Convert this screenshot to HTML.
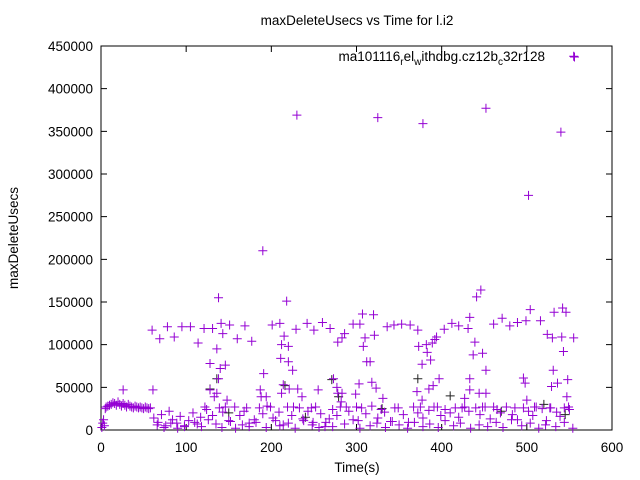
<!DOCTYPE html>
<html><head><meta charset="utf-8"><style>
body{margin:0;background:#fff;}
svg{display:block;font-family:"Liberation Sans",sans-serif;}
</style></head><body>
<svg id="chart" width="640" height="480" viewBox="0 0 640 480" xmlns="http://www.w3.org/2000/svg">
<rect x="0" y="0" width="640" height="480" fill="#fff"/>
<text x="357" y="25" font-size="13.5" text-anchor="middle">maxDeleteUsecs vs Time for l.i2</text>
<text transform="translate(18,238) rotate(-90)" font-size="13.5" text-anchor="middle">maxDeleteUsecs</text>
<text x="357" y="472" font-size="13.5" text-anchor="middle">Time(s)</text>
<g id="grid"></g>
<g id="pts"></g>
<g>
<text x="545" y="61" font-size="13.5" text-anchor="end">ma101116<tspan font-size="10" dy="4">r</tspan><tspan dy="-4">el</tspan><tspan font-size="10" dy="4">w</tspan><tspan dy="-4">ithdbg.cz12b</tspan><tspan font-size="10" dy="4">c</tspan><tspan dy="-4">32r128</tspan></text>
<path d="M570 57h9M574.5 52.5v9" stroke="#9400d3" stroke-width="1"/>
</g>
</svg>
<script>
const xTicks=[0,100,200,300,400,500,600];
const yTicks=[0,50000,100000,150000,200000,250000,300000,350000,400000,450000];
const timesA=[1,2,3,4,5,6,8,10,12,14,16,18,20,22,24,26,28,30,32,34,36,38,40,42,44,46,48,50,52,54,56,58,26,61,
60,69,78,86,95,105,114,121,128,131,136,138,138,140,141,143,146,151,160,169,177,191,201,210,211,212,215,218,220,220,225,229,242,250,260,269,273,278,190,230,325,378,452,502,540,555,
128,133,136,148,187,188,194,212,214,221,231,236,255,277,278,282,
283,286,296,304,307,320,308,310,312,316,321,336,344,353,363,372,373,377,383,382,387,389,392,394,403,412,420,431,433,441,446,437,439,448,452,461,471,480,489,499,504,516,524,530,532,542,546,541,543,555,531,
397,433,496,498,548,536,529,303,318,323,331,371,390,385,377,433,444,452,427,283,299,500,547,
62,67,71,76,80,84,89,93,98,103,108,113,117,124,131,139,143,150,157,163,168,174,180,186,190,195,205,209,214,219,224,233,237,243,249,252,258,263,268,272,277,288,291,302,306,311,318,325,329,333,340,349,355,361,367,372,378,385,391,399,404,410,416,420,427,432,440,445,451,457,465,469,476,483,489,496,502,507,511,518,523,528,535,539,544,550,
66,74,82,90,98,110,118,126,135,142,152,158,166,174,182,194,202,210,220,228,238,248,256,264,272,286,296,304,316,324,334,342,350,360,368,378,386,396,404,414,422,434,444,454,464,472,482,494,504,514,522,534,544,554,
122,146,171,199,226,247,281,300,345,375,395,424,448,461,486,509,527,549];
const valuesA=[3000,8000,12000,5000,25000,27000,28000,29000,30000,32000,31000,29000,33000,30000,28000,31000,29000,27000,30000,28000,27000,26000,28000,27000,26000,27000,26000,25000,27000,26000,25000,26000,47000,47000,
117000,107000,121000,109000,121000,121000,102000,119000,78000,119000,95000,155000,60000,72000,125000,113000,76000,123000,107000,122000,104000,66000,123000,125000,84000,100000,110000,151000,80000,98000,70000,118000,125000,117000,126000,119000,60000,103000,210000,369000,366000,359000,377000,275000,349000,438000,
47000,39000,43000,35000,47000,39000,39000,43000,53000,48000,48000,39000,47000,50000,43000,33000,
108000,113000,124000,124000,136000,135000,98000,108000,80000,80000,111000,121000,123000,124000,123000,117000,98000,77000,91000,100000,82000,102000,106000,109000,118000,125000,122000,119000,132000,156000,164000,88000,103000,90000,70000,124000,131000,122000,126000,128000,141000,128000,112000,108000,138000,143000,138000,109000,92000,108000,70000,
60000,60000,61000,55000,59000,55000,51000,54000,56000,49000,37000,45000,52000,48000,35000,47000,43000,43000,37000,43000,42000,35000,39000,
14000,9000,18000,5000,22000,12000,8000,16000,4000,11000,20000,7000,15000,24000,17000,26000,21000,11000,27000,17000,22000,8000,12000,26000,19000,28000,11000,21000,6000,27000,17000,26000,13000,22000,9000,27000,19000,4000,13000,24000,17000,27000,22000,11000,26000,19000,28000,14000,24000,21000,10000,26000,18000,9000,27000,20000,14000,23000,27000,17000,24000,20000,26000,15000,27000,22000,26000,18000,27000,13000,24000,20000,27000,18000,12000,26000,22000,17000,27000,25000,11000,26000,21000,16000,26000,24000,
6000,3000,8000,2000,5000,9000,4000,12000,7000,3000,10000,2000,6000,4000,9000,3000,14000,5000,8000,2000,11000,6000,3000,9000,4000,7000,12000,2000,5000,8000,3000,10000,6000,2000,9000,4000,7000,3000,11000,5000,8000,2000,6000,4000,9000,3000,12000,5000,8000,2000,6000,4000,9000,2000,
27000,27000,26000,27000,27000,26000,27000,27000,26000,27000,27000,26000,27000,27000,26000,27000,26000,27000];
const timesB=[128,136,216,271,279,372,150,240,330,410,470,520,545];
const valuesB=[48000,60000,52000,59000,39000,60000,20000,15000,25000,40000,22000,30000,18000];
const X0=101,X1=612,Y0=430,Y1=46;
const sx=t=>X0+(t-0)*(X1-X0)/600;
const sy=v=>Y0-(v-0)*(Y0-Y1)/450000;
const NS="http://www.w3.org/2000/svg";
const g=document.getElementById('grid');
const frame=document.createElementNS(NS,'rect');
frame.setAttribute('x',X0);frame.setAttribute('y',Y1);frame.setAttribute('width',X1-X0);frame.setAttribute('height',Y0-Y1);
frame.setAttribute('fill','none');frame.setAttribute('stroke','#000');


g.appendChild(frame);
xTicks.forEach(t=>{
 const p=document.createElementNS(NS,'path');const x=sx(t);
 p.setAttribute('d',`M${x} ${Y0}v-6M${x} ${Y1}v6`);p.setAttribute('stroke','#000');
 
 
 g.appendChild(p);
 const tx=document.createElementNS(NS,'text');tx.setAttribute('x',x);tx.setAttribute('y',452);
 tx.setAttribute('font-size','13.5');tx.setAttribute('text-anchor','middle');tx.textContent=t;
 
 
 g.appendChild(tx);
});
yTicks.forEach(v=>{
 const p=document.createElementNS(NS,'path');const y=sy(v);
 p.setAttribute('d',`M${X0} ${y}h6M${X1} ${y}h-6`);p.setAttribute('stroke','#000');
 
 
 g.appendChild(p);
 const tx=document.createElementNS(NS,'text');tx.setAttribute('x',93);tx.setAttribute('y',y+5);
 tx.setAttribute('font-size','13.5');tx.setAttribute('text-anchor','end');tx.textContent=v;
 
 
 g.appendChild(tx);
});
const pg=document.getElementById('pts');
function plus(t,v,c){
 const x=sx(t),y=sy(v);
 const p=document.createElementNS(NS,'path');
 p.setAttribute('d',`M${x-4.5} ${y}h9M${x} ${y-4.5}v9`);
 p.setAttribute('stroke',c);p.setAttribute('stroke-width','1');
 
 
 pg.appendChild(p);
}
timesB.forEach((t,i)=>plus(t,valuesB[i],'#222'));
timesA.forEach((t,i)=>plus(t,valuesA[i],'#9400d3'));
</script>
</body></html>
